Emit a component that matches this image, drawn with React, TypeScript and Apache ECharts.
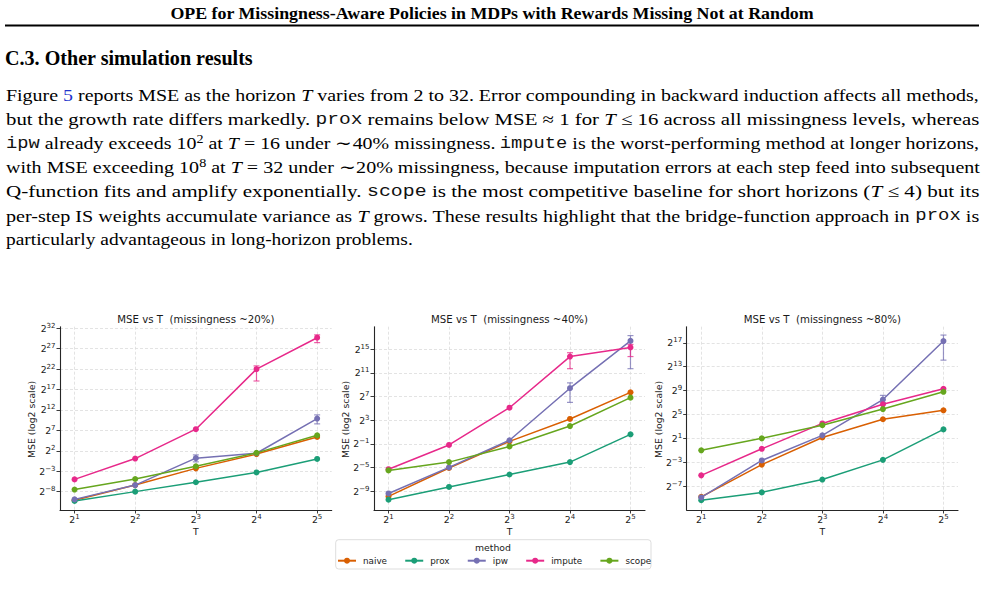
import React, { useEffect, useRef } from 'react';
import * as echarts from 'echarts';

// ---------------- data ----------------
const T_VALUES = [2, 4, 8, 16, 32];
const METHODS = ['naive', 'prox', 'ipw', 'impute', 'scope'];
const COLORS = ['#d95f02', '#1b9e77', '#7570b3', '#e7298a', '#66a61e'];
const PANEL_TITLES = [
  'MSE vs T  (missingness ~20%)',
  'MSE vs T  (missingness ~40%)',
  'MSE vs T  (missingness ~80%)',
];
const X_TICKS = [1, 2, 3, 4, 5]; // log2(T)
const Y_TICKS_20 = [-8, -3, 2, 7, 12, 17, 22, 27, 32];
const Y_TICKS_40 = [-9, -5, -1, 3, 7, 11, 15];
const Y_TICKS_80 = [-7, -3, 1, 5, 9, 13, 17];
const Y_RANGE_20 = [-12.5, 32.4];
const Y_RANGE_40 = [-12.2, 18.8];
const Y_RANGE_80 = [-11.0, 19.7];
const X_RANGE = [0.76, 5.24];

// log2(MSE), missingness ~20%
const naive20 = [-10.1, -6.4, -2.3, 1.2, 5.4];
const prox20 = [-10.3, -8.0, -5.7, -3.3, 0.0];
const ipw20 = [-9.9, -6.4, 0.2, 1.4, 9.9];
const impute20 = [-5.0, 0.1, 7.3, 22.0, 29.7];
const scope20 = [-7.5, -4.9, -1.8, 1.5, 5.8];
// log2(MSE), missingness ~40%
const naive40 = [-9.9, -5.1, -0.6, 3.2, 7.7];
const prox40 = [-10.45, -8.3, -6.2, -4.1, 0.6];
const ipw40 = [-9.4, -5.0, -0.4, 8.4, 16.4];
const impute40 = [-5.3, -1.2, 5.1, 13.75, 15.3];
const scope40 = [-5.5, -4.1, -1.45, 2.0, 6.8];
// log2(MSE), missingness ~80%
const naive80 = [-8.8, -3.4, 1.15, 4.2, 5.7];
const prox80 = [-9.35, -8.05, -5.9, -2.6, 2.5];
const ipw80 = [-8.9, -2.7, 1.5, 7.5, 17.3];
const impute80 = [-5.2, -0.75, 3.5, 6.7, 9.3];
const scope80 = [-1.0, 1.0, 3.2, 5.9, 8.8];

// error bars: [T, log2 low, log2 high]
const ipw20Err = [[8, -0.7, 1.0], [32, 8.6, 10.8]];
const impute20Err = [[16, 19.1, 22.8], [32, 28.5, 30.4]];
const ipw40Err = [[16, 6.0, 9.3], [32, 11.7, 17.3]];
const impute40Err = [[16, 11.7, 14.4], [32, 13.75, 15.8]];
const ipw80Err = [[16, 7.0, 8.2], [32, 14.1, 18.3]];
const impute80Err: number[][] = [];

// page text
const HEADER = 'OPE for Missingness-Aware Policies in MDPs with Rewards Missing Not at Random';
const SECTION = 'C.3. Other simulation results';
type Seg = [string, string];
const PARAGRAPH: Seg[][] = [
  [['n', 'Figure '], ['l', '5'], ['n', ' reports MSE as the horizon '], ['i', 'T'], ['n', ' varies from 2 to 32. Error compounding in backward induction affects all methods,']],
  [['n', 'but the growth rate differs markedly. '], ['c', 'prox'], ['n', ' remains below MSE ≈ 1 for '], ['i', 'T'], ['n', ' ≤ 16 across all missingness levels, whereas']],
  [['c', 'ipw'], ['n', ' already exceeds 10'], ['s', '2'], ['n', ' at '], ['i', 'T'], ['n', ' = 16 under ∼40% missingness. '], ['c', 'impute'], ['n', ' is the worst-performing method at longer horizons,']],
  [['n', 'with MSE exceeding 10'], ['s', '8'], ['n', ' at '], ['i', 'T'], ['n', ' = 32 under ∼20% missingness, because imputation errors at each step feed into subsequent']],
  [['n', 'Q-function fits and amplify exponentially. '], ['c', 'scope'], ['n', ' is the most competitive baseline for short horizons ('], ['i', 'T'], ['n', ' ≤ 4) but its']],
  [['n', 'per-step IS weights accumulate variance as '], ['i', 'T'], ['n', ' grows. These results highlight that the bridge-function approach in '], ['c', 'prox'], ['n', ' is']],
  [['n', 'particularly advantageous in long-horizon problems.']],
];

// ---------------- styling ----------------
const FONT = 'DejaVu Sans';
const SERIF = 'Liberation Serif';
const MONO = 'Liberation Mono';
const TXT = '#1a1a1a';
const AX = '#262626';
const GRIDLINE = { color: '#dcdcdc', width: 0.8, type: [3, 2] as number[] };

const powLabel = (v: number) =>
  Number.isInteger(v) ? `{b|2}{s|${String(v).replace('-', '−')}}` : '';
const TICK_RICH = {
  b: { fontFamily: FONT, fontSize: 9.3, color: TXT, lineHeight: 12 },
  s: { fontFamily: FONT, fontSize: 7, color: TXT, lineHeight: 5, verticalAlign: 'top' },
};

const SEG_FONT: Record<string, string> = {
  n: `17px "${SERIF}"`,
  l: `17px "${SERIF}"`,
  i: `italic 17px "${SERIF}"`,
  c: `16px "${MONO}"`,
  s: `12px "${SERIF}"`,
};
const RICH = {
  n: { fontFamily: SERIF, fontSize: 17, fill: '#000', lineHeight: 22 },
  l: { fontFamily: SERIF, fontSize: 17, fill: '#2233cc', lineHeight: 22 },
  i: { fontFamily: SERIF, fontSize: 17, fontStyle: 'italic', fill: '#000', lineHeight: 22 },
  c: { fontFamily: MONO, fontSize: 16, fill: '#111', lineHeight: 22 },
  s: { fontFamily: SERIF, fontSize: 12, fill: '#000', lineHeight: 13.4, verticalAlign: 'top' },
};

function measure(ctx: CanvasRenderingContext2D, font: string, text: string) {
  ctx.font = font;
  return ctx.measureText(text).width;
}

const GRIDS = [
  { left: 60, top: 326.7, width: 271.7, height: 183.3 },
  { left: 374, top: 326.7, width: 271, height: 183.3 },
  { left: 686.7, top: 326.7, width: 271.3, height: 183.3 },
];

function buildOption(ctx: CanvasRenderingContext2D | null) {
  const panels = [
    { values: [naive20, prox20, ipw20, impute20, scope20], errs: [[], [], ipw20Err, impute20Err, []], ticks: Y_TICKS_20, range: Y_RANGE_20 },
    { values: [naive40, prox40, ipw40, impute40, scope40], errs: [[], [], ipw40Err, impute40Err, []], ticks: Y_TICKS_40, range: Y_RANGE_40 },
    { values: [naive80, prox80, ipw80, impute80, scope80], errs: [[], [], ipw80Err, impute80Err, []], ticks: Y_TICKS_80, range: Y_RANGE_80 },
  ];

  const series: any[] = [];
  panels.forEach((p, pi) => {
    p.values.forEach((vals, m) => {
      series.push({
        type: 'line',
        name: METHODS[m],
        xAxisIndex: pi,
        yAxisIndex: pi,
        data: T_VALUES.map((t, i) => [Math.log2(t), vals[i]]),
        symbol: 'circle',
        symbolSize: 6,
        lineStyle: { width: 1.5, color: COLORS[m] },
        itemStyle: { color: COLORS[m] },
        z: 3 + m,
        emphasis: { disabled: true },
      });
      const errs = p.errs[m];
      if (errs.length) {
        const color = COLORS[m];
        series.push({
          type: 'custom',
          name: METHODS[m] + ' error',
          xAxisIndex: pi,
          yAxisIndex: pi,
          data: errs.map((e) => [Math.log2(e[0]), e[1], e[2]]),
          encode: { x: 0, y: [1, 2] },
          z: 3 + m,
          silent: true,
          renderItem: (params: any, api: any) => {
            const x = api.value(0);
            const lo = api.coord([x, api.value(1)]);
            const hi = api.coord([x, api.value(2)]);
            const cap = 3;
            const st = { stroke: color, lineWidth: 1.2, opacity: 0.75 };
            return {
              type: 'group',
              children: [
                { type: 'line', shape: { x1: lo[0], y1: lo[1], x2: hi[0], y2: hi[1] }, style: st },
                { type: 'line', shape: { x1: lo[0] - cap, y1: lo[1], x2: lo[0] + cap, y2: lo[1] }, style: st },
                { type: 'line', shape: { x1: hi[0] - cap, y1: hi[1], x2: hi[0] + cap, y2: hi[1] }, style: st },
              ],
            };
          },
        });
      }
    });
  });

  const xAxis = GRIDS.map((g, i) => ({
    type: 'value',
    gridIndex: i,
    min: X_RANGE[0],
    max: X_RANGE[1],
    axisLine: { show: true, onZero: false, lineStyle: { color: AX, width: 1.1 } },
    axisTick: { show: true, length: 3.5, lineStyle: { color: AX, width: 0.9 }, customValues: X_TICKS },
    axisLabel: { customValues: X_TICKS, formatter: powLabel, rich: TICK_RICH, margin: 3.5 },
    splitLine: { show: true, lineStyle: GRIDLINE },
  }));
  const yAxis = panels.map((p, i) => ({
    type: 'value',
    gridIndex: i,
    min: p.range[0],
    max: p.range[1],
    axisLine: { show: true, onZero: false, lineStyle: { color: AX, width: 1.1 } },
    axisTick: { show: true, length: 3.5, lineStyle: { color: AX, width: 0.9 }, customValues: p.ticks },
    axisLabel: { customValues: p.ticks, formatter: powLabel, rich: TICK_RICH, margin: 4.5 },
    splitLine: { show: true, lineStyle: GRIDLINE },
  }));

  const graphic: any[] = [];
  // running header
  const hdrFont = `bold 17.5px "${SERIF}"`;
  const hdrW = ctx ? measure(ctx, hdrFont, HEADER) : 560;
  graphic.push({
    type: 'text', x: 492, y: 13.2, scaleX: Math.min(1.4, Math.max(0.8, 644 / hdrW)),
    style: { text: HEADER, fontFamily: SERIF, fontWeight: 'bold', fontSize: 17.5, fill: '#000', align: 'center', verticalAlign: 'middle' },
  });
  graphic.push({ type: 'line', shape: { x1: 5, y1: 25.6, x2: 979, y2: 25.6 }, style: { stroke: '#000', lineWidth: 2 } });
  // section heading
  const secFont = `bold 20px "${SERIF}"`;
  const secW = ctx ? measure(ctx, secFont, SECTION) : 220;
  graphic.push({
    type: 'text', x: 5, y: 58.3, scaleX: Math.min(1.4, Math.max(0.8, 248 / secW)),
    style: { text: SECTION, fontFamily: SERIF, fontWeight: 'bold', fontSize: 20, fill: '#000', align: 'left', verticalAlign: 'middle' },
  });
  // paragraph (lines justified to the text block width; the last line keeps its own width)
  const PX0 = 6;
  const PX1 = 979.5;
  const LAST_END = 413;
  PARAGRAPH.forEach((segs, li) => {
    const text = segs.map(([k, t]) => `{${k}|${t}}`).join('');
    let sx = 1.15;
    if (ctx) {
      const w = segs.reduce((acc, [k, t]) => acc + measure(ctx, SEG_FONT[k], t), 0);
      const target = li < PARAGRAPH.length - 1 ? PX1 - PX0 : LAST_END - PX0;
      sx = Math.min(1.35, Math.max(0.9, target / w));
    }
    graphic.push({
      type: 'text', x: PX0, y: 95.2 + li * 24.1, scaleX: sx,
      style: { text, rich: RICH, fontFamily: SERIF, fontSize: 17, fill: '#000', align: 'left', verticalAlign: 'middle' },
    });
  });

  // panel titles and axis names
  GRIDS.forEach((g, i) => {
    const cx = g.left + g.width / 2;
    graphic.push({
      type: 'text', x: cx, y: 319.3,
      style: { text: PANEL_TITLES[i], fontFamily: FONT, fontSize: 10.2, fill: TXT, align: 'center', verticalAlign: 'middle' },
    });
    graphic.push({
      type: 'text', x: cx, y: 531,
      style: { text: 'T', fontFamily: FONT, fontSize: 9.3, fill: TXT, align: 'center', verticalAlign: 'middle' },
    });
    graphic.push({
      type: 'text', x: g.left - 28.3, y: 419.5, rotation: Math.PI / 2,
      style: { text: 'MSE (log2 scale)', fontFamily: FONT, fontSize: 9.3, fill: TXT, align: 'center', verticalAlign: 'middle' },
    });
  });

  // legend frame and title
  graphic.push({
    type: 'rect', shape: { x: 335.7, y: 539.7, width: 315.3, height: 29.3, r: 3 },
    style: { fill: 'rgba(255,255,255,0.8)', stroke: '#d4d4d4', lineWidth: 0.8 }, z: -1,
  });
  graphic.push({
    type: 'text', x: 493, y: 547.7,
    style: { text: 'method', fontFamily: FONT, fontSize: 9.3, fill: TXT, align: 'center', verticalAlign: 'middle' },
  });

  return {
    animation: false,
    backgroundColor: '#ffffff',
    grid: GRIDS.map((g) => ({ ...g, containLabel: false })),
    xAxis,
    yAxis,
    legend: {
      data: METHODS,
      left: 337,
      top: 554.7,
      orient: 'horizontal',
      padding: 0,
      itemWidth: 18,
      itemHeight: 7.5,
      itemGap: 17.2,
      selectedMode: false,
      textStyle: { fontSize: 8.8, fontFamily: FONT, color: TXT, padding: [0, 0, 0, 2], lineHeight: 12 },
    },
    series,
    graphic,
  };
}

export default function App() {
  const ref = useRef<HTMLDivElement>(null);
  useEffect(() => {
    if (!ref.current) return;
    const chart = echarts.init(ref.current, undefined, { renderer: 'svg' });
    const canvas = document.createElement('canvas');
    const ctx = canvas.getContext('2d');
    chart.setOption(buildOption(ctx) as any);
    return () => chart.dispose();
  }, []);
  return (
    <div
      ref={ref}
      style={{ position: 'fixed', left: 0, top: 0, width: 987, height: 606, background: '#ffffff' }}
    />
  );
}
